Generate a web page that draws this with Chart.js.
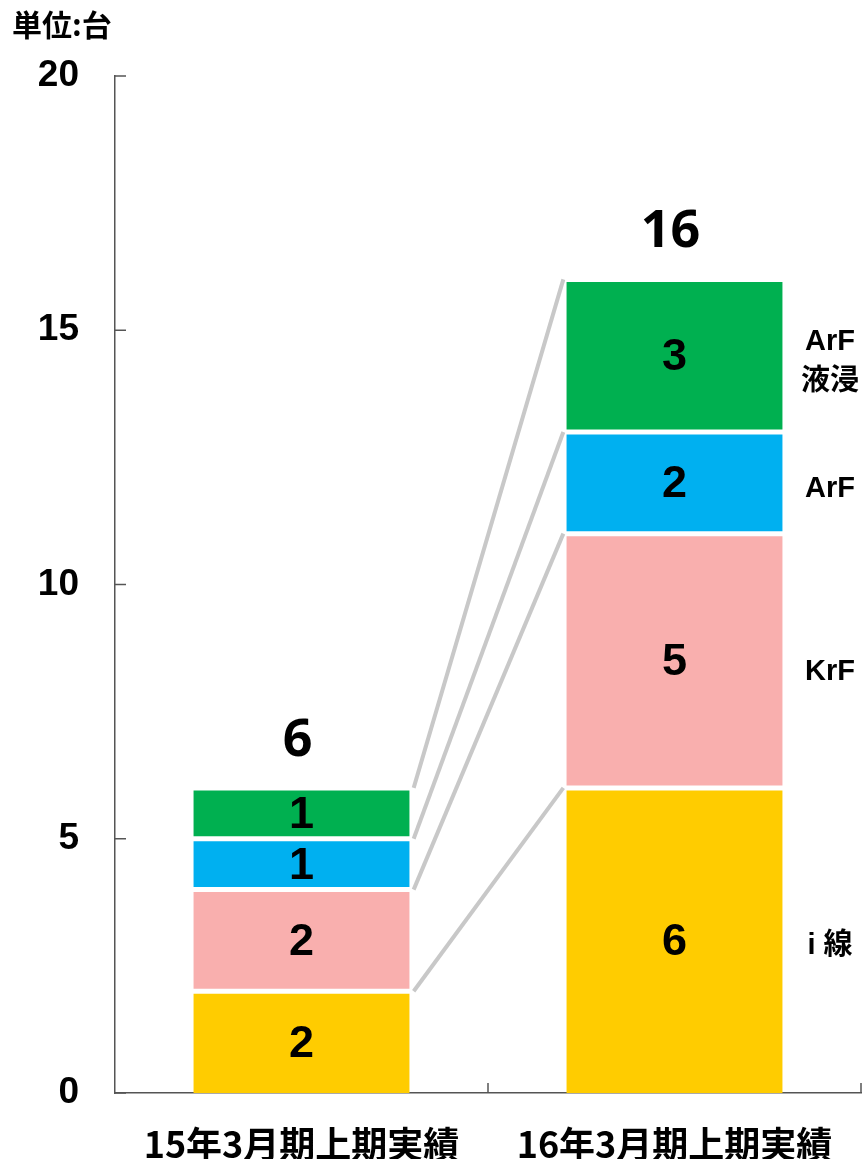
<!DOCTYPE html>
<html>
<head>
<meta charset="utf-8">
<script src="https://cdn.jsdelivr.net/npm/chart.js@4"></script>
<style>
  html, body { margin: 0; padding: 0; background: #fff; }
  #wrap { width: 863px; height: 1159px; }
</style>
</head>
<body>
<div id="wrap"><canvas id="myChart"></canvas></div>
<script>
const categories = ['15年3月期上期実績', '16年3月期上期実績'];
const iLine = [2, 6];
const krf = [2, 5];
const arf = [1, 2];
const arfImmersion = [1, 3];
const seriesNames = ['i 線', 'KrF', 'ArF', 'ArF\n液浸'];
const seriesColors = ['#FFCC00', '#F9AFAE', '#00B0F0', '#00B050'];
const unitLabel = '単位:台';

const seriesValues = [iLine, krf, arf, arfImmersion];
const totals = categories.map((c, i) => seriesValues.reduce((s, v) => s + v[i], 0));

const CJK = "'Noto Sans CJK JP', sans-serif";

// connectors, inward ticks, labels
const decorations = {
  id: 'decorations',
  beforeDatasetsDraw(chart) {
    const ctx = chart.ctx;
    ctx.save();
    ctx.strokeStyle = '#C8C8C8';
    ctx.lineWidth = 4;
    chart.data.datasets.forEach((ds, i) => {
      const meta = chart.getDatasetMeta(i);
      const a = meta.data[0], b = meta.data[1];
      ctx.beginPath();
      ctx.moveTo(a.x + a.width / 2 + 4, a.y);
      ctx.lineTo(b.x - b.width / 2 - 3, b.y);
      ctx.stroke();
    });
    ctx.restore();
  },
  afterDraw(chart) {
    const ctx = chart.ctx;
    const area = chart.chartArea;
    const x = chart.scales.x, y = chart.scales.y;
    ctx.save();

    // tick marks pointing inward
    ctx.strokeStyle = '#555';
    ctx.lineWidth = 1.5;
    y.ticks.forEach(t => {
      const py = y.getPixelForValue(t.value);
      ctx.beginPath();
      ctx.moveTo(area.left, py);
      ctx.lineTo(area.left + 11, py);
      ctx.stroke();
    });
    const mid = (x.getPixelForValue(0) + x.getPixelForValue(1)) / 2;
    [mid, area.right].forEach(px => {
      ctx.beginPath();
      ctx.moveTo(px, area.bottom);
      ctx.lineTo(px, area.bottom - 10);
      ctx.stroke();
    });

    // segment values
    ctx.fillStyle = '#000';
    ctx.textAlign = 'center';
    ctx.textBaseline = 'middle';
    ctx.font = "bold 45px 'Liberation Sans', sans-serif";
    chart.data.datasets.forEach((ds, i) => {
      chart.getDatasetMeta(i).data.forEach((bar, j) => {
        ctx.fillText(String(ds.data[j]), bar.x, (bar.y + bar.base) / 2 + 2);
      });
    });

    // totals above the bars
    const topMeta = chart.getDatasetMeta(chart.data.datasets.length - 1);
    ctx.font = "bold 52px 'Noto Sans', sans-serif";
    topMeta.data.forEach((bar, j) => {
      ctx.fillText(String(totals[j]), bar.x - 4, bar.y - 47);
    });

    // series names to the right of the second bar
    ctx.font = "bold 29px 'Liberation Sans', " + CJK;
    chart.data.datasets.forEach((ds, i) => {
      const bar = chart.getDatasetMeta(i).data[1];
      const lines = seriesNames[i].split('\n');
      const cy = (bar.y + bar.base) / 2 + (i === 1 ? 11 : 6);
      lines.forEach((ln, k) => {
        ctx.fillText(ln, 830, cy + (k - (lines.length - 1) / 2) * 40);
      });
    });

    // unit
    ctx.textAlign = 'left';
    ctx.font = 'bold 30px ' + CJK;
    ctx.fillText(unitLabel, 12, 25);
    ctx.restore();
  }
};

const myChart = new Chart(document.getElementById('myChart'), {
  type: 'bar',
  data: {
    labels: categories,
    datasets: seriesValues.map((vals, i) => ({
      label: seriesNames[i],
      data: vals,
      backgroundColor: seriesColors[i],
      borderColor: '#fff',
      borderWidth: { top: 2.5, bottom: i === 0 ? 0 : 2.5, left: 0, right: 0 },
      borderSkipped: false
    }))
  },
  options: {
    responsive: true,
    maintainAspectRatio: false,
    animation: false,
    categoryPercentage: 1,
    barPercentage: 0.58,
    layout: { padding: { top: 76, right: 2, left: 0, bottom: 0 } },
    plugins: {
      legend: { display: false },
      tooltip: { enabled: false }
    },
    scales: {
      x: {
        stacked: true,
        grid: { display: false, drawTicks: false },
        border: { display: true, color: '#555', width: 1.5 },
        ticks: {
          color: '#000',
          padding: 30,
          font: { family: CJK, size: 36, weight: 'bold' }
        },
        afterFit(scale) { scale.height = 66; }
      },
      y: {
        stacked: true,
        min: 0,
        max: 20,
        grid: { display: false, drawTicks: false },
        border: { display: true, color: '#555', width: 1.5 },
        ticks: {
          stepSize: 5,
          color: '#000',
          padding: 36,
          font: { family: "'Liberation Sans', sans-serif", size: 37, weight: 'bold' }
        },
        afterFit(scale) { scale.width = 115; }
      }
    }
  },
  plugins: [decorations]
});
</script>
</body>
</html>
